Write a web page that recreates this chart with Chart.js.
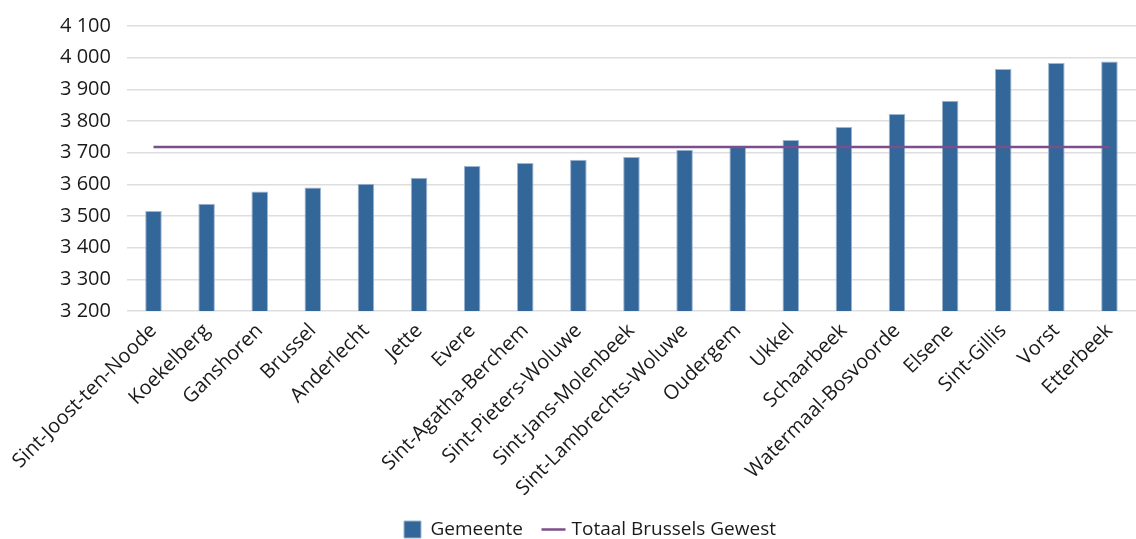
<!DOCTYPE html>
<html>
<head>
<meta charset="utf-8">
<script src="https://cdn.jsdelivr.net/npm/chart.js@4/dist/chart.umd.min.js"></script>
<style>
  html, body { margin: 0; padding: 0; background: #fff; }
  #wrap { width: 1136px; height: 539px; }
</style>
</head>
<body>
<div id="wrap"><canvas id="myChart"></canvas></div>
<script>
'use strict';

const gemeenten = [
  'Sint-Joost-ten-Noode', 'Koekelberg', 'Ganshoren', 'Brussel', 'Anderlecht',
  'Jette', 'Evere', 'Sint-Agatha-Berchem', 'Sint-Pieters-Woluwe', 'Sint-Jans-Molenbeek',
  'Sint-Lambrechts-Woluwe', 'Oudergem', 'Ukkel', 'Schaarbeek', 'Watermaal-Bosvoorde',
  'Elsene', 'Sint-Gillis', 'Vorst', 'Etterbeek'
];

const gemeenteValues = [
  3516, 3539, 3577, 3590, 3602,
  3621, 3658, 3667, 3678, 3686,
  3709, 3721, 3740, 3781, 3822,
  3864, 3964, 3983, 3988
];

const totaalGewest = 3718;
const totaalValues = gemeenten.map(() => totaalGewest);

const yMin = 3200, yMax = 4100, yStep = 100;

const fontFamily = '"Open Sans", sans-serif';
const textColor = '#1a1a1a';

// 3 200 style thousands
const formatTick = (v) => {
  const s = String(Math.round(v));
  return s.replace(/\B(?=(\d{3})+(?!\d))/g, ' ');
};

const ctx = document.querySelector('#myChart').getContext('2d');

const myChart = new Chart(ctx, {
  type: 'bar',
  data: {
    labels: gemeenten,
    datasets: [{
      label: 'Gemeente',
      data: gemeenteValues,
      backgroundColor: '#336699',
      borderColor: '#9db6d2',
      borderWidth: 1,
      barPercentage: 0.6,
      categoryPercentage: 0.52,
      pointStyle: 'rect',
      order: 2
    }, {
      type: 'line',
      label: 'Totaal Brussels Gewest',
      data: totaalValues,
      borderColor: '#7b4f8c',
      backgroundColor: '#7b4f8c',
      borderWidth: 2.5,
      pointRadius: 0,
      pointStyle: 'line',
      fill: false,
      order: 1
    }]
  },
  options: {
    responsive: true,
    maintainAspectRatio: false,
    animation: false,
    layout: {
      padding: { top: 4, right: 0, left: 44, bottom: -10 }
    },
    scales: {
      x: {
        grid: { display: false },
        border: { display: false },
        afterFit: (scale) => { scale.height = 187; },
        ticks: {
          color: textColor,
          font: { family: fontFamily, size: 20 },
          minRotation: 45,
          maxRotation: 45,
          autoSkip: false,
          padding: 0
        }
      },
      y: {
        min: yMin,
        max: yMax,
        grid: {
          color: '#dedede',
          lineWidth: 1.5,
          drawTicks: false
        },
        border: { display: false },
        ticks: {
          stepSize: yStep,
          color: textColor,
          font: { family: fontFamily, size: 20, lineHeight: 1 },
          padding: 16,
          callback: (v) => formatTick(v)
        }
      }
    },
    plugins: {
      legend: {
        position: 'bottom',
        labels: {
          color: textColor,
          font: { family: fontFamily, size: 19 },
          usePointStyle: true,
          boxWidth: 17,
          boxHeight: 17,
          padding: 22,
          sort: (a, b) => a.datasetIndex - b.datasetIndex
        }
      },
      tooltip: { enabled: false }
    }
  }
});
</script>
</body>
</html>
